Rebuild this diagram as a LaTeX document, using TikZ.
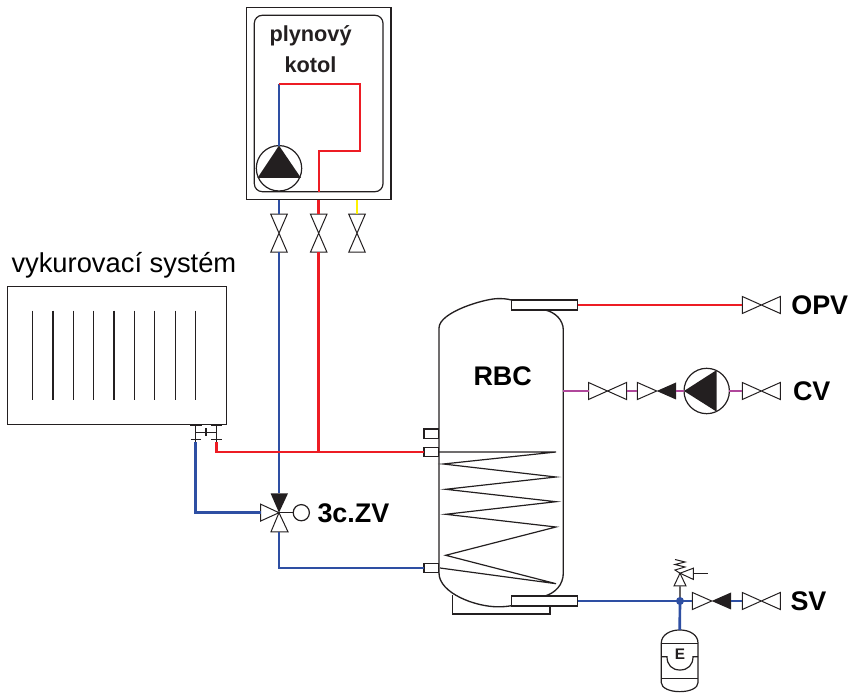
\documentclass[tikz,border=0pt]{standalone}
\usepackage{fontspec}
\setmainfont{Liberation Sans}
\definecolor{ink}{HTML}{231F20}
\definecolor{pred}{HTML}{ED1C24}
\definecolor{pblue}{HTML}{2E4FA3}
\definecolor{pmag}{HTML}{B0479B}
\definecolor{pyel}{HTML}{FFF200}
\def\px{0.75pt}
\tikzset{
  outline/.style={draw=ink,line width=0.9pt},
  thinline/.style={draw=ink,line width=0.75pt},
  redpipe/.style={draw=pred,line width=2pt},
  bluepipe/.style={draw=pblue,line width=2pt},
  magpipe/.style={draw=pmag,line width=2pt},
  yelpipe/.style={draw=pyel,line width=2pt},
  hvalvebox/.style={inner sep=0pt,outer sep=0pt,minimum width=38*\px,minimum height=17*\px},
  vvalvebox/.style={inner sep=0pt,outer sep=0pt,minimum width=16.5*\px,minimum height=38*\px},
  portbox/.style={outline,fill=white,inner sep=0pt,outer sep=0pt},
  label/.style={inner sep=0pt,outer sep=0pt,anchor=base west,text=black,font=\bfseries\fontsize{20.2}{24}\selectfont},
  dark/.style={inner sep=0pt,outer sep=0pt,anchor=base west,text=ink,font=\bfseries\fontsize{16.3}{20}\selectfont},
}
\newcommand{\hvalve}[3]{\node[hvalvebox] (#1) at (#2,#3) {};
  \draw[thinline] (#1.north west) -- (#1.south east) -- (#1.north east) -- (#1.south west) -- cycle;}
\newcommand{\vvalve}[3]{\node[vvalvebox] (#1) at (#2,#3) {};
  \draw[thinline] (#1.north west) -- (#1.north east) -- (#1.south west) -- (#1.south east) -- cycle;}
\newcommand{\chkvalve}[3]{\node[hvalvebox,minimum width=38.6*\px] (#1) at (#2,#3) {};
  \draw[thinline] (#1.north west) -- (#1.center) -- (#1.south west) -- cycle;
  \fill[ink] (#1.center) -- (#1.north east) -- (#1.south east) -- cycle;}
\begin{document}
\begin{tikzpicture}[x=0.75pt,y=-0.75pt]
\useasboundingbox (0,0) rectangle (851,695);
% boiler
\node[outline,minimum width=144.3*\px,minimum height=192*\px,inner sep=0pt,outer sep=0pt] (boiler) at (318.85,103.3) {};
\node[outline,rounded corners=6pt,minimum width=128.7*\px,minimum height=176.4*\px,inner sep=0pt,outer sep=0pt] (boilerin) at (318.65,103.5) {};
\node[dark] (tplyn) at (269.5,41.5) {plynový};
\node[dark] (tkot) at (284.5,72.5) {kotol};
% boiler pump
\node[outline,circle,minimum size=45.4*\px,inner sep=0pt,outer sep=0pt] (pb) at (279,168.3) {};
\fill[ink] (pb.north) -- (301,178) -- (257.5,178) -- cycle;
% boiler internal pipes
\coordinate (bc1) at (279,84);
\coordinate (bc2) at (360,84);
\coordinate (bc3) at (360,151);
\coordinate (bc4) at (318.7,151);
\draw[bluepipe,line width=1.6pt] (pb.north) -- (bc1);
\draw[redpipe,line width=1.6pt] (bc1) -- (bc2) -- (bc3) -- (bc4) -- (bc4 |- boilerin.south);
% valves under the boiler
\vvalve{v1}{279}{233.2}
\vvalve{v2}{318.7}{233.2}
\vvalve{v3}{357}{233.2}
\draw[bluepipe] (v1.north |- boiler.south) ++(0,0.5) -- (v1.north);
\draw[redpipe] (v2.north |- boiler.south) ++(0,0.5) -- (v2.north);
\draw[yelpipe] (v3.north |- boiler.south) ++(0,0.5) -- (v3.north);
% radiator
\node[inner sep=0pt,outer sep=0pt,anchor=base west,text=black,font=\fontsize{20.5}{24}\selectfont] (trad) at (11.5,273) {vykurovací systém};
\node[outline,minimum width=219*\px,minimum height=137.6*\px,inner sep=0pt,outer sep=0pt] (rad) at (116.8,355.5) {};
\foreach \xx in {32.7,53,73.2,93.6,114,134.4,154.8,175.2,195.8}
  \draw[thinline,line width=0.8pt] (\xx,310.7) -- (\xx,400);
% radiator fitting
\coordinate (rf1) at (195.7,442);
\coordinate (rf2) at (216.2,442);
\draw[thinline] (195.7,424.5) -- (rf1);
\draw[thinline] (216.2,424.5) -- (rf2);
\draw[thinline,line width=1.1pt] (190,425) -- (201.5,425);
\draw[thinline,line width=1.1pt] (210.5,425) -- (222,425);
\draw[thinline] (190.5,439.3) -- (201,439.3);
\draw[thinline] (211,439.3) -- (221.5,439.3);
\draw[thinline] (195.7,432.3) -- (216.2,432.3);
\draw[thinline,line width=1pt] (206,428.5) -- (206,436);
% tank
\node[inner sep=0pt,outer sep=0pt,minimum width=124.3*\px,minimum height=308*\px] (tank) at (501.15,452.7) {};
\draw[outline,line width=1pt] (511.3,300) .. controls (507,298.8) and (503,298.6) .. (498,298.6)
  .. controls (485,298.6) and (439,312) .. (439,328) -- (439,573)
  .. controls (439,593) and (475,606.8) .. (498,606.8)
  .. controls (503,606.8) and (507,606.5) .. (511.3,605.7);
\draw[outline,line width=1pt] (545,310) .. controls (555,312) and (563.3,320) .. (563.3,330)
  -- (563.3,573) .. controls (563.3,585) and (555,593) .. (545,596);
\draw[outline] (452.3,595) -- (452.3,614) -- (550,614) -- (550,605.7);
% coil
\draw[outline] (439,452) -- (556,452) -- (443.3,464) -- (556,477) -- (445.7,489.3) -- (556,501.7)
  -- (445.7,514.3) -- (556,527) -- (445.7,555.3) -- (556,583.7) -- (440,568);
% tank ports
\node[portbox,minimum width=66.4*\px,minimum height=10*\px] (ptop) at (544.5,305) {};
\node[portbox,minimum width=66.4*\px,minimum height=10*\px] (pbot) at (544.5,601) {};
\node[portbox,minimum width=14.6*\px,minimum height=9.4*\px] (p1) at (431.2,433.7) {};
\node[portbox,minimum width=14.6*\px,minimum height=9.4*\px] (p2) at (431.2,452) {};
\node[portbox,minimum width=14.6*\px,minimum height=9.4*\px] (p3) at (431.2,568) {};
\node[label] (trbc) at (473.5,385.3) {RBC};
% three-way valve
\node[inner sep=0pt,outer sep=0pt,minimum width=36.6*\px,minimum height=38.6*\px] (tw) at (279,512.7) {};
\node[outline,circle,minimum size=16.2*\px,inner sep=0pt,outer sep=0pt] (act) at (301.3,512.7) {};
\draw[thinline] (tw.center) -- (act.west);
\fill[ink] (tw.center) -- (270.6,493.4) -- (288,493.4) -- cycle;
\draw[thinline] (tw.center) -- (260.7,504.2) -- (260.7,521) -- cycle;
\draw[thinline] (tw.center) -- (271,531.8) -- (288,531.8) -- cycle;
\node[label] (t3c) at (317.5,523) {3c.ZV};
% blue system
\draw[bluepipe] (v1.south) -- (tw.north);
\draw[bluepipe] (rf1) |- (tw.west);
\draw[bluepipe] (tw.south) |- (p3.west);
% red system
\draw[redpipe] (v2.south) -- (v2.south |- p2.west);
\draw[redpipe] (rf2) |- (p2.west);
% OPV
\hvalve{v5}{761.3}{305}
\draw[redpipe] (ptop.east) -- (v5.west);
\node[label] (topv) at (791.3,314.5) {OPV};
% CV
\hvalve{v6}{607.5}{391}
\chkvalve{c1}{656.7}{391}
\node[outline,circle,minimum size=45.4*\px,inner sep=0pt,outer sep=0pt] (pc) at (706.7,391) {};
\fill[ink] (pc.west) -- (716.7,370) -- (716.7,411.7) -- cycle;
\hvalve{v7}{761.3}{391}
\draw[magpipe] (tank.east |- v6.west) -- (v6.west);
\draw[magpipe] (v6.east) -- (c1.west);
\draw[magpipe] (c1.east) -- (pc.west);
\draw[magpipe] (pc.east) -- (v7.west);
\node[label] (tcv) at (793,400.5) {CV};
% SV
\coordinate (jn) at (680,601);
\chkvalve{c2}{711.7}{601}
\hvalve{v8}{761.3}{601}
\draw[bluepipe] (pbot.east) -- (c2.west);
\draw[bluepipe] (c2.east) -- (v8.west);
\node[label] (tsv) at (790.5,610.5) {SV};
% safety valve
\node[inner sep=0pt,outer sep=0pt,minimum width=12*\px,minimum height=12.7*\px] (sft) at (680,579.6) {};
\draw[thinline] (sft.north) -- (sft.south west) -- (sft.south east) -- cycle;
\draw[thinline] (sft.north) -- (693.3,568.2) -- (693.3,579.4) -- cycle;
\draw[thinline] (693.3,573.7) -- (707.7,573.7);
\draw[thinline] (sft.north) -- (675,570) -- (685,567) -- (675,564.5) -- (685,562) -- (675,559.5);
\draw[draw=ink!70,line width=1.1pt] (sft.south) -- (jn);
% expansion vessel
\node[inner sep=0pt,outer sep=0pt,minimum width=36.7*\px,minimum height=61.7*\px] (exp) at (679.7,660.8) {};
\draw[outline] (661.3,643) .. controls (661.3,635) and (670,630) .. (exp.north)
  .. controls (690,630) and (698,635) .. (698,643) -- (698,682.7)
  .. controls (698,688) and (690,691.7) .. (exp.south)
  .. controls (670,691.7) and (661.3,688) .. (661.3,682.7) -- cycle;
\draw[outline] (661.3,643.3) -- (698,643.3);
\draw[outline] (661.3,678.3) -- (698,678.3);
\draw[outline] (661.3,656.7) -- (667,656.7) .. controls (667,665) and (672,670) .. (680,670)
  .. controls (688,670) and (693,665) .. (693,656.7) -- (698,656.7);
\node[inner sep=0pt,outer sep=0pt,anchor=base,text=ink,font=\bfseries\fontsize{11.5}{14}\selectfont] (texp) at (680,659.5) {E};
\draw[bluepipe] (jn) -- (exp.north);
\fill[pblue] (jn) circle[radius=4];
\end{tikzpicture}
\end{document}
